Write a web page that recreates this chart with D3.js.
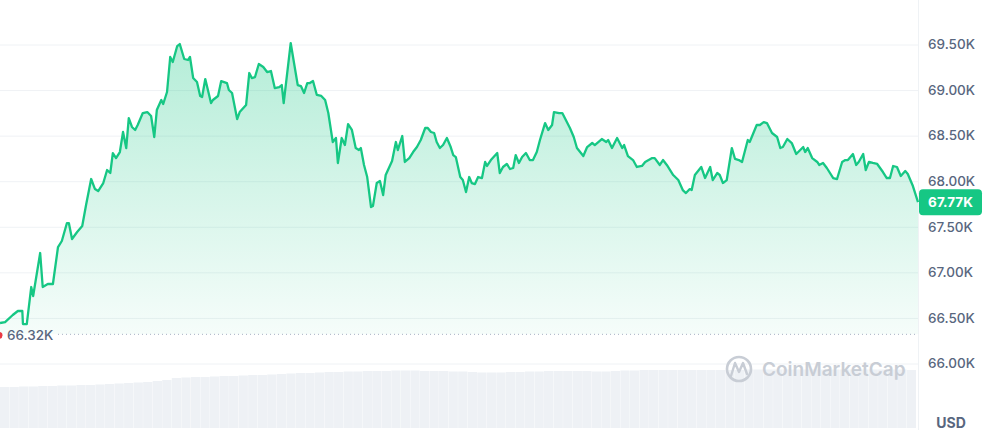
<!DOCTYPE html>
<html>
<head>
<meta charset="utf-8">
<script src="https://cdn.jsdelivr.net/npm/d3@7"></script>
<style>
  html, body { margin: 0; padding: 0; background: #ffffff; }
  svg { display: block; font-family: Inter, "Noto Sans", sans-serif; }
</style>
</head>
<body>
<svg id="chart" width="987" height="438"></svg>
<script>
// ---- Data (BTC price over 24h, minutes from start) ----
const minutes = [0,8,20,28,35,36,42,49,52,63,67,75,83,91,97,105,108,113,121,129,135,143,149,154,162,168,173,177,182,188,193,198,202,207,212,216,224,231,237,242,246,253,256,262,267,271,278,282,289,295,298,303,309,314,317,322,331,334,342,347,356,359,364,372,376,386,391,395,400,406,413,419,425,431,438,442,445,456,467,472,477,482,486,491,497,504,510,515,522,527,530,536,541,546,552,558,563,566,571,576,582,585,591,596,601,605,615,621,624,631,635,642,648,654,660,667,671,676,681,685,690,695,701,707,711,715,722,726,731,736,740,745,750,756,761,764,770,780,784,789,795,800,805,809,814,819,825,831,836,842,847,855,860,866,869,877,882,886,894,900,905,915,921,929,933,944,951,954,960,968,976,979,985,993,999,1007,1012,1023,1027,1035,1040,1046,1056,1064,1071,1076,1082,1085,1090,1100,1106,1114,1118,1125,1129,1134,1140,1148,1153,1159,1164,1173,1176,1187,1192,1198,1203,1211,1219,1224,1228,1235,1242,1249,1260,1263,1267,1274,1282,1285,1291,1297,1307,1313,1321,1326,1330,1338,1343,1347,1354,1358,1363,1369,1376,1385,1391,1396,1401,1407,1413,1420,1424,1432,1440];
const prices = [66444,66455,66532,66576,66576,66433,66433,66839,66740,67212,66839,66872,66872,67278,67344,67541,67541,67366,67443,67508,67739,68024,67914,67892,67980,68123,68090,68309,68254,68320,68540,68364,68693,68595,68562,68617,68748,68759,68715,68485,68781,68891,68847,68979,69363,69308,69483,69505,69341,69330,69363,69132,69088,68935,68924,69121,68858,68891,68935,69099,69077,69001,68968,68682,68759,68836,69187,69132,69143,69286,69253,69198,69209,69022,69033,69055,68858,69516,69055,69044,68968,69077,69077,69099,68946,68935,68891,68748,68430,68474,68200,68474,68397,68627,68562,68364,68342,68364,68178,68046,67717,67728,67980,68002,67848,68068,68222,68430,68342,68496,68211,68254,68320,68375,68452,68584,68584,68540,68529,68430,68364,68397,68474,68375,68287,68265,68046,68013,67881,68046,67980,67969,68046,68035,68211,68167,68232,68309,68090,68156,68189,68134,68145,68287,68200,68265,68309,68232,68232,68320,68452,68638,68562,68617,68759,68748,68748,68693,68584,68485,68364,68276,68375,68419,68397,68463,68430,68452,68364,68474,68364,68397,68276,68232,68156,68167,68211,68254,68254,68178,68232,68178,68068,68013,67903,67870,67914,67903,68068,68156,68035,68156,68013,68090,68068,67980,68013,68364,68244,68232,68211,68452,68430,68617,68617,68649,68638,68529,68485,68364,68375,68463,68419,68298,68375,68320,68364,68254,68211,68178,68200,68145,68035,68024,68211,68232,68232,68298,68178,68211,68298,68123,68211,68200,68189,68101,68035,68035,68167,68156,68057,68112,68079,67947,67770];
// 15-minute volume buckets (billions USD, rolling)
const volumes = [41,41,41.5,41.5,42,42,42.5,42.5,43,43,43.5,44,44.5,45,45.5,46,47,48,50,50.5,51,51,51.5,52,52,52.5,53,53,53.5,54,54.5,55,55,55.5,56,56,56.5,56.5,57,57,57,57.5,57.5,57.5,57,57,57,56.5,56.5,56,55.5,55.5,55.5,56,56,56.5,56.5,57,57,57,57,57,56.5,56.5,57,57.5,57.5,58,58,58,58,58,58,58,58,58,58,58,58.5,58.5,58.5,58.5,58.5,58.5,58.5,58.5,58.5,58.5,58.5,58.5,58.5,58.5,58.5,58.5,58.5,58];
const yTicks = [66000,66500,67000,67500,68000,68500,69000,69500];
const openPrice = 66320;
const lastPrice = 67770;
const currency = "USD";
const watermark = "CoinMarketCap";

// ---- Layout ----
const plotRight = 918;
const svg = d3.select("#chart");
const green = "#16c784";
const textGray = "#58667e";

const x = d3.scaleLinear().domain([0, 1440]).range([0, plotRight]);
const y = d3.scaleLinear().domain([66000, 69500]).range([363.5, 44.5]);
const fmtK = v => (v / 1000).toFixed(2) + "K";

const data = minutes.map((m, i) => ({ m, p: prices[i] }));

// gradient
const defs = svg.append("defs");
const grad = defs.append("linearGradient").attr("id", "areaGrad")
  .attr("gradientUnits", "userSpaceOnUse")
  .attr("x1", 0).attr("x2", 0).attr("y1", y(69500)).attr("y2", y(openPrice));
grad.append("stop").attr("offset", "0%").attr("stop-color", green).attr("stop-opacity", 0.32);
grad.append("stop").attr("offset", "100%").attr("stop-color", green).attr("stop-opacity", 0.04);

// volume bars
const xv = d3.scaleBand().domain(d3.range(volumes.length)).range([0, 916]).paddingInner(0.03);
const yv = d3.scaleLinear().domain([0, 60]).range([428, 368]);
svg.append("g").selectAll("rect").data(volumes).join("rect")
  .attr("x", (d, i) => xv(i))
  .attr("y", d => yv(d))
  .attr("width", xv.bandwidth())
  .attr("height", d => yv(0) - yv(d))
  .attr("fill", "#eef1f5");

// gridlines
const gridAxis = d3.axisLeft(y).tickValues(yTicks).tickFormat("").tickSize(plotRight);
const gGrid = svg.insert("g", ":first-child").attr("transform", `translate(${plotRight},0)`).call(gridAxis);
gGrid.select(".domain").remove();
gGrid.selectAll("line").attr("stroke", "#eff2f5").attr("stroke-width", 1);

// right axis labels
const axis = d3.axisRight(y).tickValues(yTicks).tickFormat(fmtK).tickSize(0).tickPadding(10);
const gAxis = svg.append("g").attr("transform", `translate(${plotRight},0)`).call(axis);
gAxis.select(".domain").remove();
gAxis.selectAll("text").attr("fill", textGray).style("font-size", "13.5px").style("font-family", "Inter, sans-serif").attr("font-weight", 500);

// vertical separator at right of plot
svg.append("line").attr("x1", plotRight + 0.5).attr("x2", plotRight + 0.5).attr("y1", 0).attr("y2", 430)
  .attr("stroke", "#eff2f5").attr("stroke-width", 1);

// area
const area = d3.area().x(d => x(d.m)).y0(y(openPrice)).y1(d => y(d.p));
svg.append("path").datum(data).attr("d", area).attr("fill", "url(#areaGrad)");

// baseline dotted line at open price
svg.append("line").attr("x1", 58).attr("x2", plotRight).attr("y1", y(openPrice)).attr("y2", y(openPrice))
  .attr("stroke", "#a6b0c3").attr("stroke-width", 1).attr("stroke-dasharray", "1,3");

// price line
const line = d3.line().x(d => x(d.m)).y(d => y(d.p));
svg.append("path").datum(data).attr("d", line).attr("fill", "none")
  .attr("stroke", green).attr("stroke-width", 2.3).attr("stroke-linejoin", "round");

// open price marker + label
svg.append("circle").attr("cx", -1).attr("cy", y(openPrice) + 1).attr("r", 3.5).attr("fill", "#ea3943");
svg.append("text").attr("x", 7).attr("y", y(openPrice) + 6).text(fmtK(openPrice))
  .attr("fill", textGray).style("font-size", "13.5px").attr("font-weight", 500);

// last price badge
const by = y(lastPrice);
svg.append("rect").attr("x", plotRight + 1).attr("y", by - 13).attr("width", 63).attr("height", 26).attr("rx", 4).attr("fill", green);
svg.append("text").attr("x", plotRight + 32.5).attr("y", by + 5).attr("text-anchor", "middle")
  .text(fmtK(lastPrice)).attr("fill", "#ffffff").style("font-size", "13.5px").attr("font-weight", 700);

// currency label
svg.append("text").attr("x", 951).attr("y", 428).attr("text-anchor", "middle").text(currency)
  .attr("fill", textGray).style("font-size", "14px").attr("font-weight", 700);

// watermark
const wm = svg.append("g");
wm.append("circle").attr("cx", 739).attr("cy", 369).attr("r", 12).attr("fill", "none").attr("stroke", "#c8cdd5").attr("stroke-width", 2.6);
wm.append("path").attr("d", "M731,376 L735,363 L739,372 L743,363 L747,374")
  .attr("fill", "none").attr("stroke", "#c8cdd5").attr("stroke-width", 2.4).attr("stroke-linejoin", "round").attr("stroke-linecap", "round");
wm.append("text").attr("x", 762).attr("y", 376).text(watermark)
  .attr("fill", "#c8cdd5").style("font-size", "19px").attr("font-weight", 600);
</script>
</body>
</html>
